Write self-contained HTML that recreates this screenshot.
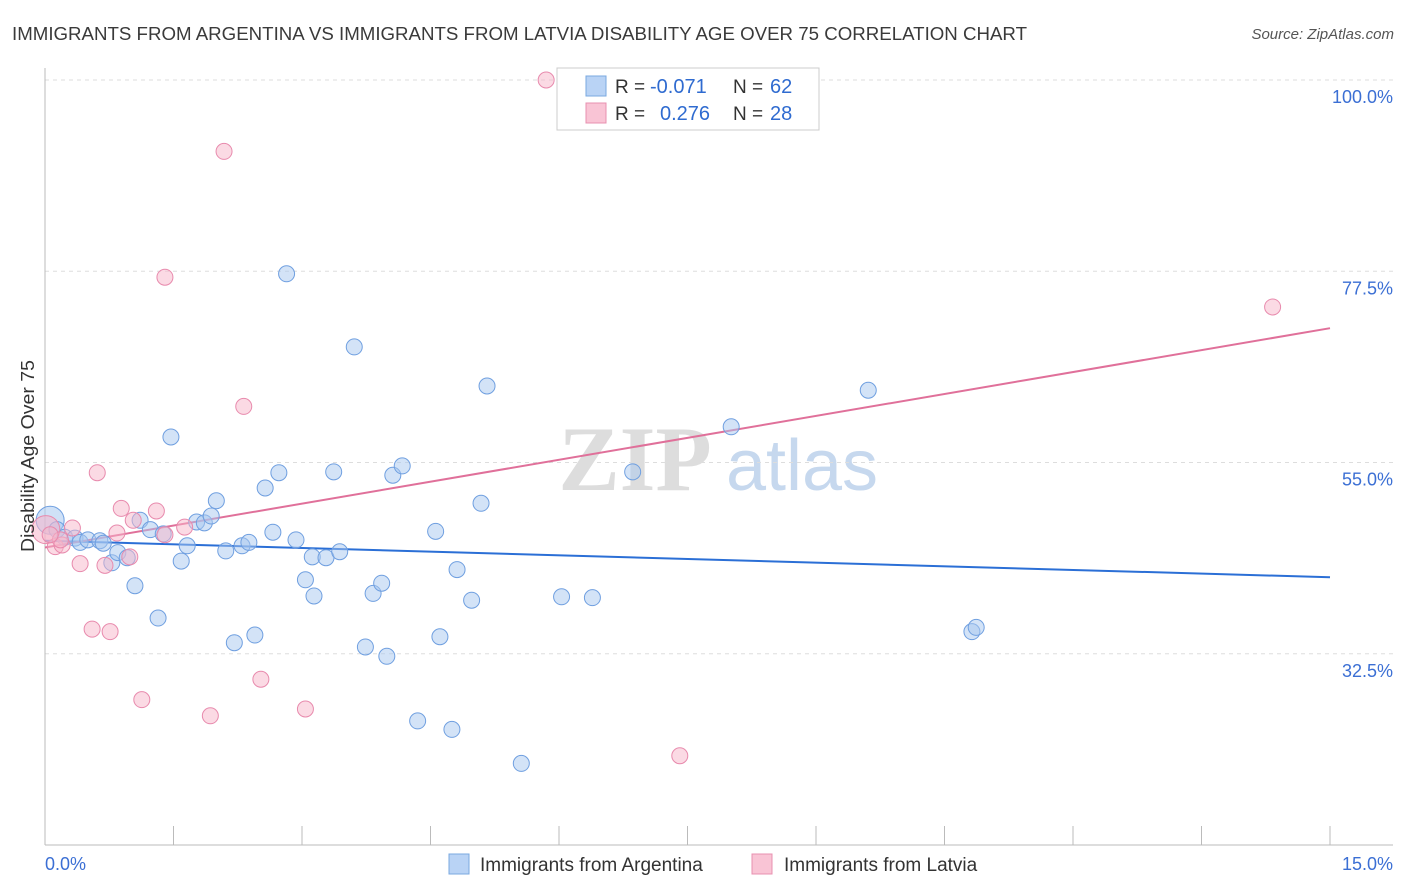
<!DOCTYPE html>
<html><head><meta charset="utf-8"><style>
body{margin:0;background:#fff;font-family:"Liberation Sans",sans-serif;}
svg{display:block}
</style></head><body>
<svg id="chart" width="1406" height="892" xmlns="http://www.w3.org/2000/svg">
<text x="12" y="40" font-size="18" fill="#3a3a3a" textLength="1015" lengthAdjust="spacingAndGlyphs">IMMIGRANTS FROM ARGENTINA VS IMMIGRANTS FROM LATVIA DISABILITY AGE OVER 75 CORRELATION CHART</text>
<text x="1394" y="39" font-size="15" fill="#555" font-style="italic" text-anchor="end">Source: ZipAtlas.com</text>
<g>
<text x="635" y="490" font-size="92" fill="#ddd" font-family="Liberation Serif" text-anchor="middle" font-weight="bold">ZIP</text>
<text x="802" y="490" font-size="72" fill="#c6d8ee" text-anchor="middle">atlas</text>
</g>
<g id="grid"></g>
<g id="axes"></g>
<g id="lines"></g>
<g id="points"></g>
<text transform="translate(34,456) rotate(-90)" font-size="18" fill="#333" text-anchor="middle" textLength="192" lengthAdjust="spacingAndGlyphs">Disability Age Over 75</text>
<g>
<rect x="557" y="68" width="262" height="62" fill="#fff" stroke="#ccc"/>
<rect x="586" y="76" width="20" height="20" fill="#b9d3f5" stroke="#7aa8e0"/>
<rect x="586" y="103" width="20" height="20" fill="#f9c4d5" stroke="#e890b0"/>
<text x="615" y="93" font-size="19" fill="#333">R =</text>
<text x="650" y="93" font-size="20" fill="#2f6bd0">-0.071</text>
<text x="733" y="93" font-size="19" fill="#333">N =</text>
<text x="770" y="93" font-size="20" fill="#2f6bd0">62</text>
<text x="615" y="120" font-size="19" fill="#333">R =</text>
<text x="660" y="120" font-size="20" fill="#2f6bd0">0.276</text>
<text x="733" y="120" font-size="19" fill="#333">N =</text>
<text x="770" y="120" font-size="20" fill="#2f6bd0">28</text>
</g>
<g>
<rect x="449" y="854" width="20" height="20" fill="#b9d3f5" stroke="#7aa8e0"/>
<text x="480" y="871" font-size="19" fill="#333">Immigrants from Argentina</text>
<rect x="752" y="854" width="20" height="20" fill="#f9c4d5" stroke="#e890b0"/>
<text x="784" y="871" font-size="19" fill="#333">Immigrants from Latvia</text>
</g>
</svg>
<script>
const yTicks=[100,77.5,55,32.5];
const yTickLabels=["100.0%","77.5%","55.0%","32.5%"];
const xTicks=[0,1.5,3,4.5,6,7.5,9,10.5,12,13.5,15];
const xEndLabels=["0.0%","15.0%"];
const argX=[0.06,0.14,0.23,0.35,0.41,0.50,0.64,0.68,0.78,0.85,0.96,1.05,1.11,1.23,1.32,1.38,1.47,1.59,1.66,1.77,1.86,1.94,2.00,2.11,2.21,2.30,2.38,2.45,2.57,2.66,2.73,2.82,2.93,3.04,3.14,3.12,3.28,3.37,3.44,3.61,3.74,3.83,3.93,3.99,4.06,4.17,4.35,4.56,4.61,4.75,4.81,4.98,5.09,5.16,5.56,6.03,6.39,6.86,8.01,9.61,10.82,10.87];
const argY=[48.2,47.1,46.2,46.1,45.6,45.9,45.8,45.5,43.2,44.4,43.8,40.5,48.2,47.1,36.7,46.6,58.0,43.4,45.2,48.0,47.9,48.7,50.5,44.6,33.8,45.2,45.6,34.7,52.0,46.8,53.8,77.2,45.9,41.2,39.3,43.9,43.8,53.9,44.5,68.6,33.3,39.6,40.8,32.2,53.5,54.6,24.6,46.9,34.5,23.6,42.4,38.8,50.2,64.0,19.6,39.2,39.1,53.9,59.2,63.5,35.1,35.6];
const latX=[0.01,0.12,0.20,0.32,0.41,0.55,0.61,0.70,0.76,0.84,0.89,0.99,1.03,1.13,1.30,1.40,1.63,1.93,2.09,2.32,2.52,3.04,5.85,7.41,14.33,1.40,0.18,0.06];
const latY=[47.1,45.1,45.3,47.3,43.1,35.4,53.8,42.9,35.1,46.7,49.6,43.9,48.2,27.1,49.3,46.5,47.4,25.2,91.6,61.6,29.5,26.0,100,20.5,73.3,76.8,45.9,46.5];
const argLine=[[0,45.8],[15,41.5]];
const latLine=[[0,45.0],[15,70.8]];
const NS="http://www.w3.org/2000/svg";
const X=v=>45+v/15*1285;
const Y=v=>80+(100-v)*8.5;
function mk(p,t,a){const e=document.createElementNS(NS,t);for(const k in a)e.setAttribute(k,a[k]);p.appendChild(e);return e;}
const grid=document.getElementById('grid'),axes=document.getElementById('axes'),lines=document.getElementById('lines'),pts=document.getElementById('points');
yTicks.forEach((t,i)=>{
 const l=mk(grid,'line',{x1:45,x2:1393,y1:Y(t),y2:Y(t),stroke:'#ddd','stroke-dasharray':'4,4'});
 
 
 const tx=mk(axes,'text',{x:1393,y:Y(t)+23,'font-size':18,fill:'#3b6fd4','text-anchor':'end'});
 tx.textContent=yTickLabels[i];
 
 
});
const ax=mk(axes,'line',{x1:45,x2:45,y1:68,y2:845,stroke:'#bbb'});


const bx=mk(axes,'line',{x1:45,x2:1393,y1:845,y2:845,stroke:'#bbb'});


xTicks.forEach(t=>{
 const l=mk(axes,'line',{x1:X(t),x2:X(t),y1:826,y2:845,stroke:'#bbb'});
 
 
});
[[0,'start',45],[15,'end',1393]].forEach((d,i)=>{
 const tx=mk(axes,'text',{x:d[2],y:870,'font-size':18,fill:'#3b6fd4','text-anchor':d[1]});
 tx.textContent=xEndLabels[i];
 
 
});
function drawPts(xs,ys,fill,stroke,name){
 xs.forEach((x,i)=>{
  const big=i===0;
  const c=mk(pts,'circle',{cx:X(x),cy:Y(ys[i]),r:big?14:8,fill:fill,'fill-opacity':big?0.55:0.5,stroke:stroke,'stroke-width':1});
  
  
 });
}
drawPts(argX,argY,'#a8c8f0','#6f9fe0','argentina-point');
drawPts(latX,latY,'#f7b5ca','#e88aad','latvia-point');
const l1=mk(lines,'line',{x1:X(argLine[0][0]),y1:Y(argLine[0][1]),x2:X(argLine[1][0]),y2:Y(argLine[1][1]),stroke:'#2b6fd6','stroke-width':2});


const l2=mk(lines,'line',{x1:X(latLine[0][0]),y1:Y(latLine[0][1]),x2:X(latLine[1][0]),y2:Y(latLine[1][1]),stroke:'#e0709a','stroke-width':2});


</script>
</body></html>
